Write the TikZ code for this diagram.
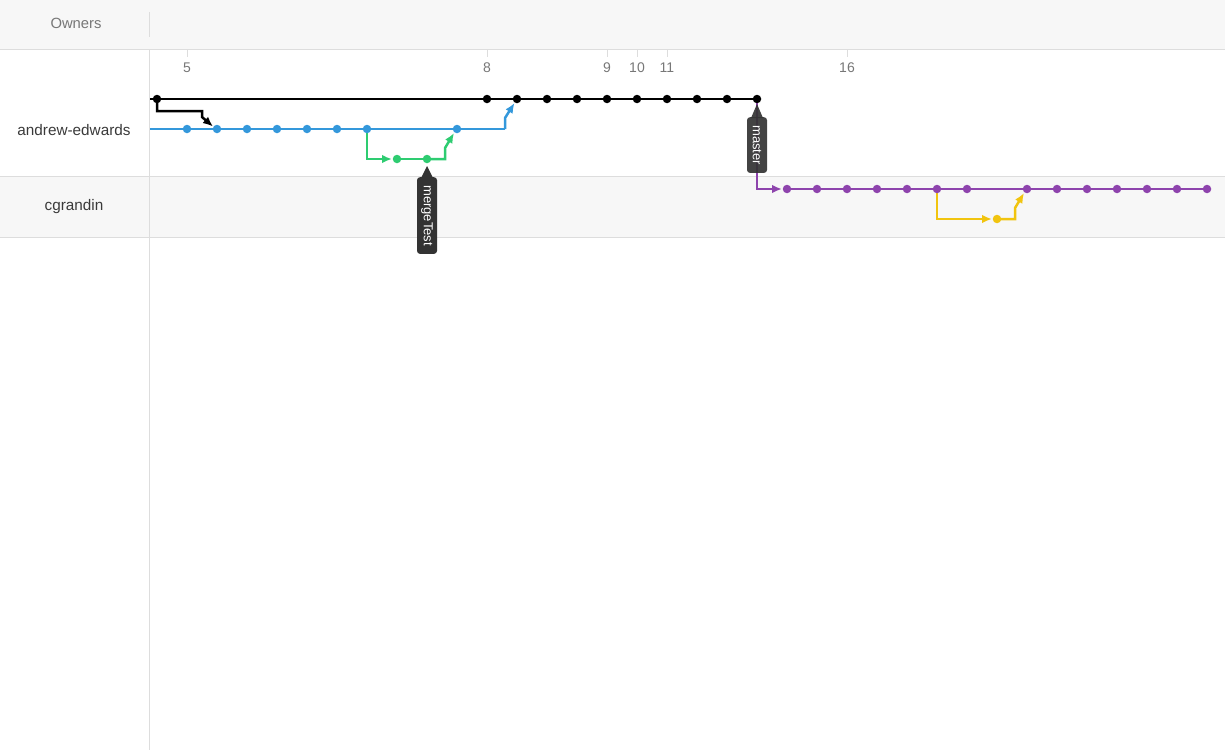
\documentclass[tikz,border=0pt]{standalone}
\usepackage{fontspec}
\setmainfont{Liberation Sans}
\usetikzlibrary{arrows.meta,calc}
\definecolor{hdr}{HTML}{F7F7F7}
\definecolor{gridc}{HTML}{DDDDDD}
\definecolor{txt}{HTML}{3A3A3A}
\definecolor{lbl}{HTML}{777777}
\definecolor{cblue}{HTML}{3498DB}
\definecolor{cgreen}{HTML}{2ECC71}
\definecolor{cpurple}{HTML}{8E44AD}
\definecolor{cyellow}{HTML}{F1C40F}
\definecolor{tagbg}{HTML}{333333}
\tikzset{
  commit/.style={circle,fill=#1,inner sep=0pt,minimum size=8.5pt},
  branch/.style={line width=2.5pt,draw=#1},
  arr/.style={-{Latex[length=10pt,width=8.5pt]}},
  tagbox/.style={fill=tagbg,rounded corners=3pt,text=white,rotate=-90,
    font=\fontsize{13}{13}\selectfont,minimum height=20pt,inner xsep=8pt,inner ysep=0pt,anchor=west},
  ticklbl/.style={text=lbl,font=\fontsize{14}{14}\selectfont},
  owner/.style={text=txt,font=\fontsize{15.3}{15.3}\selectfont},
  gridline/.style={draw=gridc,line width=1pt}
}
\begin{document}
\begin{tikzpicture}[x=1pt,y=-1pt]
\useasboundingbox (0,0) rectangle (1225,750);
% backgrounds
\fill[hdr] (0,0) rectangle (1225,49);
\fill[hdr] (0,176) rectangle (1225,237);
\draw[gridline] (0,49) -- (1225,49);
\draw[gridline] (0,176) -- (1225,176);
\draw[gridline] (0,237) -- (1225,237);
\draw[gridline] (149,12) -- (149,37);
\draw[gridline] (149,49) -- (149,750);
\node[text=lbl,font=\fontsize{14.8}{14.8}\selectfont] (owners) at (76,23.5) {Owners};
\node[owner] (ae) at (74,130.5) {andrew-edwards};
\node[owner] (cg) at (74,206.5) {cgrandin};
% ticks
\foreach \x/\t in {187/5,487/8,607/9,637/10,667/11,847/16}{
  \draw[gridline] (\x,50) -- (\x,57);
  \node[ticklbl] (t\t) at (\x,68) {\t};
}
% coordinates: black
\coordinate (k0) at (150,99);
\foreach \i/\x in {1/157,2/487,3/517,4/547,5/577,6/607,7/637,8/667,9/697,10/727,11/757}
  \coordinate (k\i) at (\x,99);
% blue
\coordinate (b0) at (150,129);
\foreach \i/\x in {1/187,2/217,3/247,4/277,5/307,6/337,7/367,8/457}
  \coordinate (b\i) at (\x,129);
\coordinate (bend) at (505,129);
% green
\foreach \i/\x in {1/397,2/427}
  \coordinate (g\i) at (\x,159);
% purple
\foreach \i/\x in {1/787,2/817,3/847,4/877,5/907,6/937,7/967,8/1027,9/1057,10/1087,11/1117,12/1147,13/1177,14/1207}
  \coordinate (p\i) at (\x,189);
% yellow
\coordinate (y1) at (997,219);

% lines
\draw[branch=black] (k0) -- (k11);
\draw[branch=cblue] (b0) -- (bend);
\draw[branch=cpurple] (p1) -- (p14);
% branch-off and merge connectors
\draw[branch=black,arr] (k1) |- (202,111) -- (202,117) -- ($(b2)+(-4,-2.5)$);
\draw[branch=cblue,arr] (bend) -- (505,118) -- ($(k3)+(-2.5,4)$);
\draw[branch=cgreen,arr] (b7) |- ($(g1)+(-5,0)$);
\draw[branch=cgreen] (g1) -- (g2);
\draw[branch=cgreen,arr] (g2) -- (445,159) -- (445,148) -- ($(b8)+(-3,4)$);
\draw[branch=cpurple,arr] (k11) |- ($(p1)+(-5,0)$);
\draw[branch=cyellow,arr] (p6) |- ($(y1)+(-5,0)$);
\draw[branch=cyellow,arr] (y1) -- (1015,219) -- (1015,208) -- ($(p8)+(-3,4)$);
% commits
\foreach \i in {1,...,11} \node[commit=black] (K\i) at (k\i) {};
\foreach \i in {1,...,8} \node[commit=cblue] (B\i) at (b\i) {};
\foreach \i in {1,2} \node[commit=cgreen] (G\i) at (g\i) {};
\foreach \i in {1,...,14} \node[commit=cpurple] (P\i) at (p\i) {};
\node[commit=cyellow] (Y1) at (y1) {};
% tags
\fill[tagbg] (421,178) -- (427,166) -- (433,178) -- cycle;
\node[tagbox] (mergetag) at (427,177) {mergeTest};
\fill[tagbg,opacity=0.92] (751,118) -- (757,104) -- (763,118) -- cycle;
\node[tagbox,fill opacity=0.92,text opacity=1] (mastertag) at (757,117) {master};
\end{tikzpicture}
\end{document}
